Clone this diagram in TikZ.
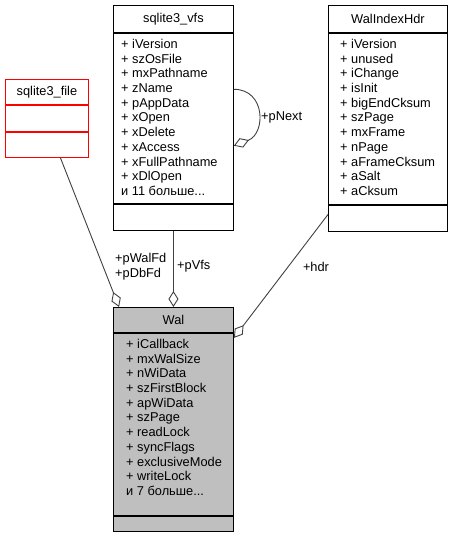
\documentclass[tikz,border=0pt]{standalone}
\usepackage{fontspec}
\setmainfont{Liberation Sans}
\usetikzlibrary{arrows.meta}
\usetikzlibrary{calc}

\definecolor{edgegray}{RGB}{64,64,64}
\definecolor{walgray}{RGB}{191,191,191}

\begin{document}
\begin{tikzpicture}
	[x=1pt, y=-1pt,
	 font=\fontsize{12.8}{14.7}\selectfont,
	 part/.style={draw=black, line width=0.9pt, minimum width=#1, inner sep=0pt, anchor=north west},
	 redpart/.style={part=#1, draw=red},
	 graypart/.style={part=#1, fill=walgray},
	 members/.style={anchor=north west, inner sep=0pt, align=left},
	 lbl/.style={inner sep=0pt, align=left},
	 assoc/.style={draw=edgegray, line width=0.9pt, -{Diamond[open, length=16pt, width=10pt]}}]

	\useasboundingbox (0,0) rectangle (453,536);

	%sqlite3_file
	\node[redpart=83, minimum height=25] (file-title) at (5,79) {sqlite3\_file};
	\node[redpart=83, minimum height=26] (file-attr) at (file-title.south west) {};
	\node[redpart=83, minimum height=25] (file-op) at (file-attr.south west) {};

	%sqlite3_vfs
	\node[part=120, minimum height=27] (vfs-title) at (113,5) {sqlite3\_vfs};
	\node[part=120, minimum height=170] (vfs-attr) at (vfs-title.south west) {};
	\node[part=120, minimum height=26] (vfs-op) at (vfs-attr.south west) {};
	\node[members] (vfs-list) at (121,39) {+ iVersion\\+ szOsFile\\+ mxPathname\\+ zName\\+ pAppData\\+ xOpen\\+ xDelete\\+ xAccess\\+ xFullPathname\\+ xDlOpen\\и 11 больше...};

	%WalIndexHdr
	\node[part=119, minimum height=27] (walidx-title) at (328,5) {WalIndexHdr};
	\node[part=119, minimum height=171] (walidx-attr) at (walidx-title.south west) {};
	\node[part=119, minimum height=26] (walidx-op) at (walidx-attr.south west) {};
	\node[members] (walidx-list) at (340,39) {+ iVersion\\+ unused\\+ iChange\\+ isInit\\+ bigEndCksum\\+ szPage\\+ mxFrame\\+ nPage\\+ aFrameCksum\\+ aSalt\\+ aCksum};

	%Wal
	\node[graypart=120, minimum height=25] (wal-title) at (113,307) {Wal};
	\node[graypart=120, minimum height=182] (wal-attr) at (wal-title.south west) {};
	\node[graypart=120, minimum height=15] (wal-op) at (wal-attr.south west) {};
	\node[members] (wal-list) at (126,339) {+ iCallback\\+ mxWalSize\\+ nWiData\\+ szFirstBlock\\+ apWiData\\+ szPage\\+ readLock\\+ syncFlags\\+ exclusiveMode\\+ writeLock\\и 7 больше...};

	%Links
	\draw[assoc] ($(file-op.south west)!0.66!(file-op.south east)$) -- ($(wal-title.north west)!0.05!(wal-title.north east)$);
	\draw[assoc] (wal-title.north |- vfs-op.south) -- (wal-title.north);
	\draw[assoc] ($(vfs-attr.north east)!0.33!(vfs-attr.south east)$) .. controls +(32,0) and +(32,-12) .. ($(vfs-attr.north east)!0.66!(vfs-attr.south east)$);
	\draw[assoc] ($(walidx-op.north west)!0.36!(walidx-op.south west)$) -- ([yshift=-5pt]wal-attr.north east);

	\node[lbl, anchor=west] (l-fd) at (115,267) {+pWalFd\\+pDbFd};
	\node[lbl, anchor=west] (l-vfs) at (177,266) {+pVfs};
	\node[lbl, anchor=west] (l-next) at (261,117) {+pNext};
	\node[lbl] (l-hdr) at (316,267) {+hdr};
\end{tikzpicture}
\end{document}
